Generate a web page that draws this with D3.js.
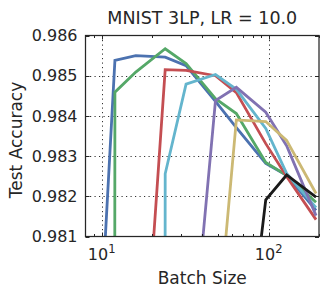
<!DOCTYPE html>
<html>
<head>
<meta charset="utf-8">
<script src="https://cdn.jsdelivr.net/npm/d3@7"></script>
<style>
  body { margin: 0; background: #fff; }
  text { font-family: "DejaVu Sans", sans-serif; fill: #262626; }
</style>
</head>
<body>
<div id="chart"></div>
<script>
// batch sizes on the x axis
var batchSizes = [8, 12, 16, 24, 32, 48, 64, 96, 128, 192];

// test accuracy per run (null = not run / not shown)
var blueRun   = [0.9719, 0.98538, 0.98550, 0.98546, 0.98525, 0.98436, 0.98371, 0.98282, 0.98252, 0.98165];
var greenRun  = [0.098, 0.98459, 0.98509, 0.98567, 0.98530, 0.98443, 0.98406, 0.98284, 0.98252, 0.98185];
var redRun    = [null, null, 0.9745, 0.98515, 0.98513, 0.98500, 0.98458, 0.98331, 0.98249, 0.98142];
var cyanRun   = [null, null, 0.098, 0.98256, 0.98479, 0.98503, 0.98466, 0.98369, 0.98257, 0.98172];
var purpleRun = [null, null, null, null, 0.9764, 0.98438, 0.98471, 0.98409, 0.98326, 0.98152];
var yellowRun = [null, null, null, null, null, 0.9781, 0.98390, 0.98386, 0.98339, 0.98207];
var blackRun  = [null, null, null, null, null, null, 0.9758, 0.98191, 0.98253, 0.98198];

var runs = [blueRun, greenRun, redRun, cyanRun, purpleRun, yellowRun, blackRun];
var colors = ["#4C72B0", "#55A868", "#C44E52", "#64B5CD", "#8172B2", "#CCB974", "#1a1a1a"];

var yTicks = [0.981, 0.982, 0.983, 0.984, 0.985, 0.986];
var xMajor = [10, 100];

var width = 327, height = 295;
var plotLeft = 85.5, plotRight = 319, plotTop = 35.5, plotBottom = 236.5;

var x = d3.scaleLog().domain([8, 200]).range([plotLeft, plotRight]);
var y = d3.scaleLinear().domain([0.981, 0.986]).range([plotBottom, plotTop]);

var svg = d3.select("#chart").append("svg")
    .attr("width", width)
    .attr("height", height);

svg.append("defs").append("clipPath").attr("id", "plot")
  .append("rect")
    .attr("x", plotLeft).attr("y", plotTop)
    .attr("width", plotRight - plotLeft).attr("height", plotBottom - plotTop);

// grid
var grid = svg.append("g")
    .style("stroke", "#333")
    .style("stroke-width", 1)
    .style("stroke-dasharray", "1.2,3.3");

grid.selectAll("line.h").data(yTicks.slice(1, -1)).enter().append("line")
    .attr("x1", plotLeft).attr("x2", plotRight)
    .attr("y1", function(d) { return Math.round(y(d)) + 0.5; })
    .attr("y2", function(d) { return Math.round(y(d)) + 0.5; });

grid.selectAll("line.v").data(xMajor).enter().append("line")
    .attr("y1", plotTop).attr("y2", plotBottom)
    .attr("x1", function(d) { return Math.round(x(d)) + 0.5; })
    .attr("x2", function(d) { return Math.round(x(d)) + 0.5; });

// lines
var line = d3.line()
    .defined(function(d) { return d[1] !== null; })
    .x(function(d) { return x(d[0]); })
    .y(function(d) { return y(d[1]); });

svg.append("g")
    .attr("clip-path", "url(#plot)")
  .selectAll("path")
  .data(runs)
  .enter().append("path")
    .attr("d", function(run) {
        return line(batchSizes.map(function(b, i) { return [b, run[i]]; }));
    })
    .style("fill", "none")
    .style("stroke", function(d, i) { return colors[i]; })
    .style("stroke-width", 2.8)
    .style("stroke-linejoin", "miter");

// ticks (inward, all four sides)
var ticks = svg.append("g").style("stroke", "#262626").style("stroke-width", 1);

var minor = x.ticks().filter(function(d) { return xMajor.indexOf(d) < 0 && d > 8; });

ticks.selectAll("g.xmaj").data(xMajor).enter().append("g").each(function(d) {
    var px = Math.round(x(d)) + 0.5;
    d3.select(this).append("line").attr("x1", px).attr("x2", px).attr("y1", plotBottom).attr("y2", plotBottom - 4);
    d3.select(this).append("line").attr("x1", px).attr("x2", px).attr("y1", plotTop).attr("y2", plotTop + 4);
});
ticks.selectAll("g.xmin").data(minor).enter().append("g").each(function(d) {
    var px = Math.round(x(d)) + 0.5;
    d3.select(this).append("line").attr("x1", px).attr("x2", px).attr("y1", plotBottom).attr("y2", plotBottom - 2.5);
    d3.select(this).append("line").attr("x1", px).attr("x2", px).attr("y1", plotTop).attr("y2", plotTop + 2.5);
});
ticks.selectAll("g.ymaj").data(yTicks).enter().append("g").each(function(d) {
    var py = Math.round(y(d)) + 0.5;
    d3.select(this).append("line").attr("x1", plotLeft).attr("x2", plotLeft + 4).attr("y1", py).attr("y2", py);
    d3.select(this).append("line").attr("x1", plotRight).attr("x2", plotRight - 4).attr("y1", py).attr("y2", py);
});

// frame
svg.append("rect")
    .attr("x", plotLeft).attr("y", plotTop)
    .attr("width", plotRight - plotLeft).attr("height", plotBottom - plotTop)
    .style("fill", "none")
    .style("stroke", "#262626")
    .style("stroke-width", 1.25);

// tick labels
svg.append("g").selectAll("text").data(yTicks).enter().append("text")
    .attr("x", plotLeft - 8)
    .attr("y", function(d) { return y(d); })
    .attr("dy", "0.36em")
    .attr("text-anchor", "end")
    .style("font-size", "16px")
    .text(d3.format(".3f"));

var xl = svg.append("g").selectAll("text").data(xMajor).enter().append("text")
    .attr("x", function(d) { return x(d); })
    .attr("y", 259.5)
    .attr("text-anchor", "middle")
    .style("font-size", "16px");
xl.append("tspan").text("10");
xl.append("tspan")
    .attr("dy", -7)
    .style("font-size", "11.5px")
    .text(function(d) { return Math.round(Math.log10(d)); });

// titles
svg.append("text")
    .attr("x", (plotLeft + plotRight) / 2)
    .attr("y", 24)
    .attr("text-anchor", "middle")
    .style("font-size", "17.5px")
    .text("MNIST 3LP, LR = 10.0");

svg.append("text")
    .attr("x", (plotLeft + plotRight) / 2)
    .attr("y", 283.5)
    .attr("text-anchor", "middle")
    .style("font-size", "17px")
    .text("Batch Size");

svg.append("text")
    .attr("transform", "translate(22,140) rotate(-90)")
    .attr("text-anchor", "middle")
    .style("font-size", "17px")
    .text("Test Accuracy");
</script>
</body>
</html>
